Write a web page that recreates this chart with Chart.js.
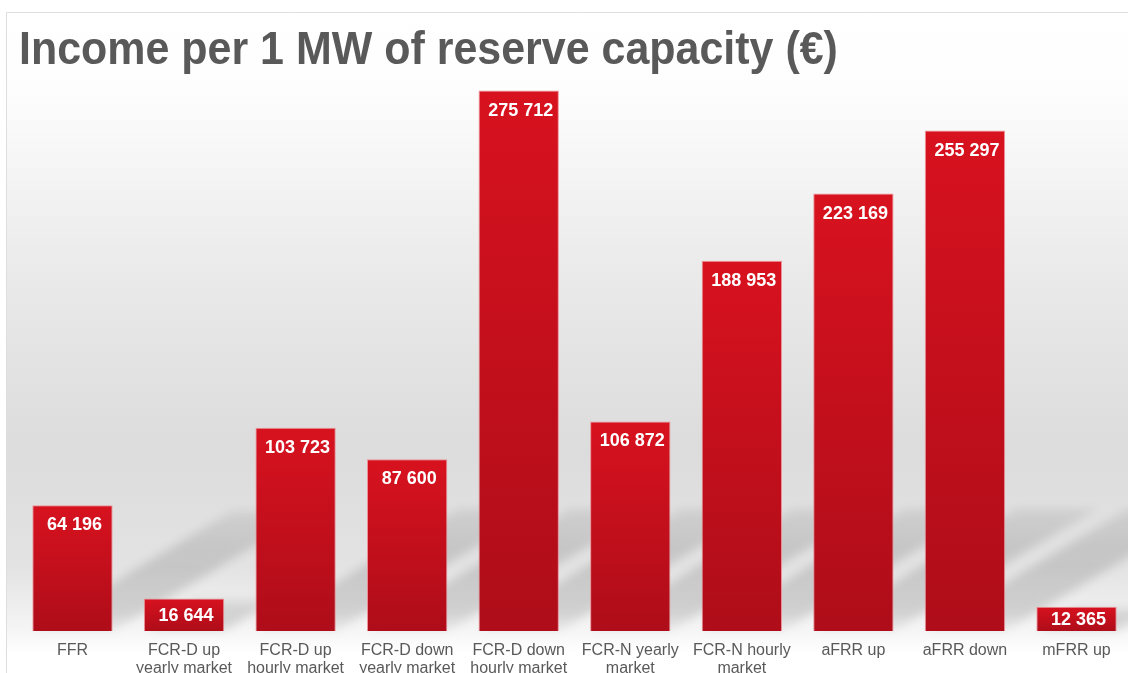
<!DOCTYPE html>
<html>
<head>
<meta charset="utf-8">
<script src="https://cdn.jsdelivr.net/npm/chart.js@4.4.1/dist/chart.umd.min.js"></script>
<style>
  body { margin: 0; background: #fff; }
  #wrap { position: relative; width: 1128px; height: 673px; overflow: hidden; }
  #chart { position: absolute; left: 0; top: 0; }
  #title {
    position: absolute; left: 19px; top: 25px; margin: 0;
    font: bold 46px "Liberation Sans", Arial, sans-serif; line-height: 46px;
    color: #595959; white-space: nowrap; transform-origin: 0 0;
  }
</style>
</head>
<body>
<div id="wrap">
  <canvas id="chart" width="1150" height="673"></canvas>
  <h1 id="title">Income per 1 MW of reserve capacity (€)</h1>
</div>
<script>
const reserveLabels = [
  ["FFR"],
  ["FCR-D up", "yearly market"],
  ["FCR-D up", "hourly market"],
  ["FCR-D down", "yearly market"],
  ["FCR-D down", "hourly market"],
  ["FCR-N yearly", "market"],
  ["FCR-N hourly", "market"],
  ["aFRR up"],
  ["aFRR down"],
  ["mFRR up"],
];
const incomeValues = [64196, 16644, 103723, 87600, 275712, 106872, 188953, 223169, 255297, 12365];

// squeeze the title a bit so it ends where the original does
const title = document.getElementById("title");
title.style.transform = "scaleX(" + (819 / title.offsetWidth) + ")";

function formatValue(v) {
  return String(v).replace(/\B(?=(\d{3})+(?!\d))/g, " ");
}

// grey backdrop with the thin frame
const backdrop = {
  id: "backdrop",
  beforeDraw(chart) {
    const ctx = chart.ctx;
    const w = chart.width, h = chart.height;
    ctx.save();
    ctx.fillStyle = "#ffffff";
    ctx.fillRect(0, 0, w, h);
    const g = ctx.createLinearGradient(0, 12, 0, h);
    g.addColorStop(0, "#ffffff");
    g.addColorStop(0.12, "#fdfdfd");
    g.addColorStop(0.38, "#ebebeb");
    g.addColorStop(0.66, "#dcdcdc");
    g.addColorStop(0.84, "#e3e3e3");
    g.addColorStop(0.935, "#f5f5f5");
    g.addColorStop(0.97, "#ffffff");
    ctx.fillStyle = g;
    ctx.fillRect(6, 12, w - 6, h - 12);
    ctx.strokeStyle = "#dedede";
    ctx.lineWidth = 1;
    ctx.beginPath();
    ctx.moveTo(6.5, h);
    ctx.lineTo(6.5, 12.5);
    ctx.lineTo(w, 12.5);
    ctx.stroke();
    ctx.restore();
  },
};

// slanted floor shadows behind the bars
const barShadows = {
  id: "barShadows",
  beforeDatasetsDraw(chart) {
    const ctx = chart.ctx;
    const bars = chart.getDatasetMeta(0).data;
    ctx.save();
    ctx.filter = "blur(5px)";
    bars.forEach((bar) => {
      const left = bar.x - bar.width / 2;
      const right = bar.x + bar.width / 2;
      const h = bar.base - bar.y;
      const dy = Math.min(h * 0.95, 122);
      const dx = dy / 0.6;
      const g = ctx.createLinearGradient(0, bar.base, 0, bar.base - dy);
      g.addColorStop(0, "rgba(0,0,0,0.04)");
      g.addColorStop(0.15, "rgba(0,0,0,0.13)");
      g.addColorStop(0.7, "rgba(0,0,0,0.12)");
      g.addColorStop(1, "rgba(0,0,0,0.07)");
      ctx.fillStyle = g;
      ctx.beginPath();
      ctx.moveTo(left, bar.base);
      ctx.lineTo(right, bar.base);
      ctx.lineTo(right + dx, bar.base - dy);
      ctx.lineTo(left + dx, bar.base - dy);
      ctx.closePath();
      ctx.fill();
    });
    ctx.restore();
  },
};

// white value labels inside the top of each bar
const valueLabels = {
  id: "valueLabels",
  afterDatasetsDraw(chart) {
    const ctx = chart.ctx;
    const bars = chart.getDatasetMeta(0).data;
    ctx.save();
    ctx.fillStyle = "#ffffff";
    ctx.font = "bold 18px 'Liberation Sans', Arial, sans-serif";
    ctx.textAlign = "center";
    ctx.textBaseline = "middle";
    bars.forEach((bar, i) => {
      const y = Math.min(bar.y + 19, (bar.y + bar.base) / 2);
      ctx.fillText(formatValue(incomeValues[i]), bar.x + 2, y + 1);
    });
    ctx.restore();
  },
};

const ctx = document.getElementById("chart");
new Chart(ctx, {
  type: "bar",
  data: {
    labels: reserveLabels,
    datasets: [
      {
        data: incomeValues,
        backgroundColor(context) {
          const chart = context.chart;
          const area = chart.chartArea;
          if (!area || context.raw === undefined) return "#c8101d";
          const top = chart.scales.y.getPixelForValue(context.raw);
          const g = chart.ctx.createLinearGradient(0, top, 0, area.bottom);
          g.addColorStop(0, "#d8121f");
          g.addColorStop(0.5, "#c30f1c");
          g.addColorStop(1, "#ae0d19");
          return g;
        },
        borderColor: "rgba(236,130,138,0.85)",
        borderWidth: 1,
        barPercentage: 0.72,
        categoryPercentage: 1,
      },
    ],
  },
  options: {
    responsive: false,
    animation: false,
    layout: { padding: { left: 16.7, right: 17.7, top: 43, bottom: 0 } },
    plugins: {
      legend: { display: false },
      tooltip: { enabled: false },
    },
    scales: {
      x: {
        grid: { display: false, drawTicks: false },
        border: { display: false },
        ticks: {
          color: "#595959",
          padding: 10,
          maxRotation: 0,
          autoSkip: false,
          font: { family: "'Liberation Sans', Arial, sans-serif", size: 16, lineHeight: 1.15 },
        },
        afterFit(scale) {
          scale.height = 42;
        },
      },
      y: {
        display: false,
        min: 0,
        max: 300000,
      },
    },
  },
  plugins: [backdrop, barShadows, valueLabels],
});
</script>
</body>
</html>
